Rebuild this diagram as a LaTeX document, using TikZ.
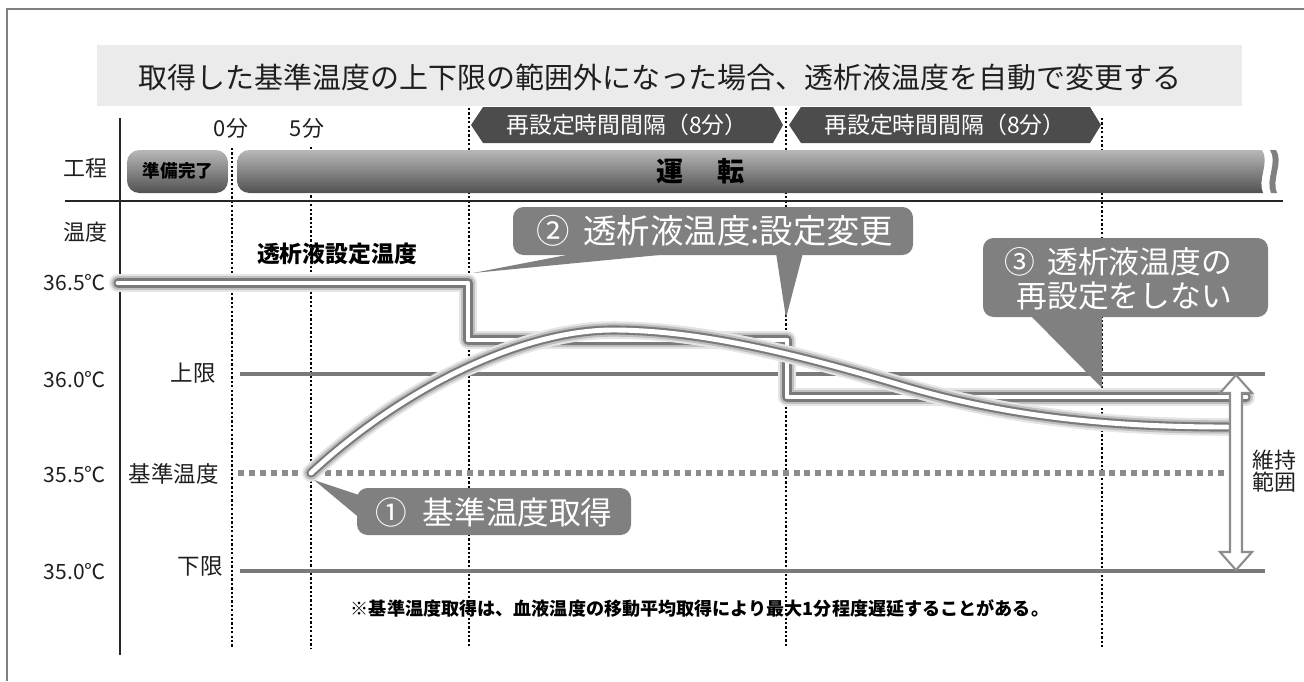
\documentclass[tikz,border=0pt]{standalone}
\usepackage{fontspec}
\setmainfont{Noto Sans CJK JP}
\usetikzlibrary{calc}
\newcommand\myfs[1]{\fontsize{#1}{#1}\selectfont}
\begin{document}
\begin{tikzpicture}[x=0.02cm,y=-0.02cm,
  dotv/.style={black, line width=1.5pt, dash pattern=on 1.3pt off 1.2pt},
  limitline/.style={black!52, line width=2.8pt},
  baseln/.style={black!45, line width=3pt, dash pattern=on 3.4pt off 2.8pt},
  callout/.style={fill=black!50, draw=none},
  pill/.style={fill=black!70},
  ctext/.style={text=white, inner sep=0pt},
  lab/.style={inner sep=0pt, text=black!88},
  glowA/.style={black!10, line width=10pt, line cap=round, line join=round},
  glowB/.style={black!25, line width=7.6pt, line cap=round, line join=round},
  glowC/.style={black!52, line width=5.2pt, line cap=round, line join=round},
  glowD/.style={white, line width=2.8pt, line cap=round, line join=round},
  barshade/.style={top color=black!28, bottom color=black!68},
]
\useasboundingbox (0,0) rectangle (1304,681);
% frame
\draw[black!50, line width=0.8pt] (7,681) -- (7,9) -- (1304,9);
% title
\fill[black!8] (97,45) rectangle (1242,106);
\node[lab, font=\myfs{16.5pt}] (title) at (660,77) {取得した基準温度の上下限の範囲外になった場合、透析液温度を自動で変更する};
% reset interval pills
\fill[pill] (471,125) -- (483,107) -- (773,107) -- (783,125) -- (773,143) -- (483,143) -- cycle;
\fill[pill] (789,125) -- (801,107) -- (1090,107) -- (1101,125) -- (1090,143) -- (801,143) -- cycle;
\node[ctext, font=\myfs{13pt}] (p1) at (627,125) {再設定時間間隔（8分）};
\node[ctext, font=\myfs{13pt}] (p2) at (945,125) {再設定時間間隔（8分）};
% vertical dotted lines
\coordinate (d0t) at (232,148); \coordinate (d0b) at (232,648);
\coordinate (d5t) at (311,147); \coordinate (d5b) at (311,648);
\coordinate (d1t) at (469,108); \coordinate (d1b) at (469,648);
\coordinate (d2t) at (786,108); \coordinate (d2b) at (786,648);
\coordinate (d3t) at (1102,118); \coordinate (d3b) at (1102,648);
\draw[dotv] (d0t) -- (d0b);
\draw[dotv] (d5t) -- (d5b);
\draw[dotv] (d1t) -- (d1b);
\draw[dotv] (d2t) -- (d2b);
\draw[dotv] (d3t) -- (d3b);
% axes
\coordinate (axt) at (120,118); \coordinate (axb) at (120,655);
\draw[black!85, line width=1.3pt] (axt) -- (axb);
\coordinate (hl) at (65,201); \coordinate (hr) at (1283,201);
\draw[black!85, line width=1.3pt] (hl) -- (hr);
% row labels
\node[lab, font=\myfs{12.5pt}] (kotei) at (85,168) {工程};
\node[lab, font=\myfs{12.5pt}] (ondo) at (85,232) {温度};
\node[lab, font=\myfs{12.5pt}] (m0) at (231,128) {0分};
\node[lab, font=\myfs{12.5pt}] (m5) at (307,128) {5分};
% process bars
\shade[barshade, rounded corners=7pt] (127,150) rectangle (228,193);
\node[lab, font=\myfs{10pt}\bfseries, text=black] (junbi) at (178,171) {準備完了};
\shade[barshade] [rounded corners=7pt] (700,150) -- (237,150) -- (237,193) -- (700,193) [sharp corners] -- (1263,193) .. controls (1257,180) and (1270,162) .. (1262,150) -- cycle;
\fill[black!50] (1270,150) .. controls (1278,162) and (1265,180) .. (1271,193) -- (1277,193) .. controls (1271,180) and (1284,162) .. (1276,150) -- cycle;
\node[lab, font=\myfs{15.4pt}\bfseries, text=black] (unten1) at (670,171) {運};
\node[lab, font=\myfs{15.4pt}\bfseries, text=black] (unten2) at (731,171) {転};
% temperature labels
\node[lab, font=\myfs{12pt}] (t365) at (75,283) {36.5℃};
\node[lab, font=\myfs{12pt}] (t360) at (75,380) {36.0℃};
\node[lab, font=\myfs{12pt}] (t355) at (75,475) {35.5℃};
\node[lab, font=\myfs{12pt}] (t350) at (75,572) {35.0℃};
\node[lab, font=\myfs{12.8pt}, anchor=east] (jougen) at (216,373) {上限};
\node[lab, font=\myfs{12.8pt}, anchor=east] (kijun) at (219,474) {基準温度};
\node[lab, font=\myfs{12.8pt}, anchor=east] (kagen) at (223,566) {下限};
\node[lab, font=\myfs{13pt}\bfseries, text=black] (setlab) at (337,254) {透析液設定温度};
% limit lines
\coordinate (ul1) at (240,374); \coordinate (ul2) at (1265,374);
\coordinate (ll1) at (240,571); \coordinate (ll2) at (1265,571);
\coordinate (bl1) at (238,473); \coordinate (bl2) at (1230,473);
\draw[limitline] (ul1) -- (ul2);
\draw[limitline] (ll1) -- (ll2);
\draw[baseln] (bl1) -- (bl2);
% set temperature line
\foreach \s in {glowA,glowB,glowC,glowD}{
  \draw[\s] (118,283) -- (468,283) -- (468,340) -- (787,340) -- (787,397) -- (1246,397);
}
% blood temperature curve
\foreach \s in {glowA,glowB,glowC,glowD}{
  \draw[\s] (311,473) .. controls (400,390) and (520,330) .. (613,330) .. controls (700,330) and (800,355) .. (900,385) .. controls (1000,415) and (1100,427) .. (1228,427);
}
% maintain range arrow
\filldraw[fill=white, draw=black!45, line width=1.2pt, line join=miter] (1236,375) -- (1252,393) -- (1242,393) -- (1242,552) -- (1252,552) -- (1236,570) -- (1220,552) -- (1230,552) -- (1230,393) -- (1220,393) -- cycle;
\node[lab, font=\myfs{12.5pt}, align=center] (iji) at (1274,471) {維持\\範囲};
% callout 1
\fill[callout, rounded corners=6pt] (357,488) rectangle (631,535);
\fill[callout] (314,480) -- (362,496) -- (362,520) -- cycle;
\node[ctext, font=\myfs{18pt}] (c1) at (494,512) {①\hspace{0.5em}基準温度取得};
% callout 2
\fill[callout, rounded corners=6pt] (513,207) rectangle (913,255);
\fill[callout] (473,273) -- (577,253) -- (680,253) -- cycle;
\fill[callout] (776,253) -- (803,253) -- (786,318) -- cycle;
\node[ctext, font=\myfs{19pt}] (c2) at (715,231) {②\hspace{0.4em}透析液温度:設定変更};
% callout 3
\fill[callout, rounded corners=6pt] (983,238) rectangle (1268,317);
\fill[callout] (1030,315) -- (1102,315) -- (1102,388) -- cycle;
\node[ctext, font=\fontsize{17.5pt}{19.5pt}\selectfont, align=right] (c3) at (1118,279) {③\hspace{0.4em}透析液温度の\\再設定をしない};
% footnote
\node[lab, font=\myfs{10.3pt}\bfseries, text=black] (note) at (700,608) {※基準温度取得は、血液温度の移動平均取得により最大1分程度遅延することがある。};
\end{tikzpicture}
\end{document}
